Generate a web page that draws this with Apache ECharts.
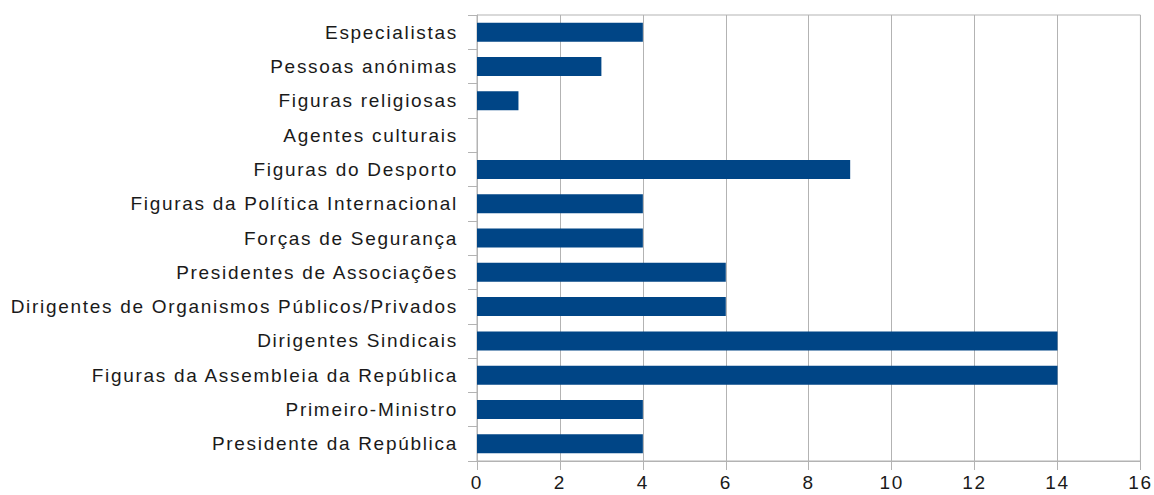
<!DOCTYPE html>
<html>
<head>
<meta charset="utf-8">
<script src="https://cdn.jsdelivr.net/npm/echarts@6/dist/echarts.min.js"></script>
<style>
html,body{margin:0;padding:0;background:#fff;}
#chart{width:1154px;height:495px;}
#chart text{letter-spacing:1.7px;}
</style>
</head>
<body>
<div id="chart"></div>
<script>
// bottom to top
const categories = [
  "Presidente da República",
  "Primeiro-Ministro",
  "Figuras da Assembleia da República",
  "Dirigentes Sindicais",
  "Dirigentes de Organismos Públicos/Privados",
  "Presidentes de Associações",
  "Forças de Segurança",
  "Figuras da Política Internacional",
  "Figuras do Desporto",
  "Agentes culturais",
  "Figuras religiosas",
  "Pessoas anónimas",
  "Especialistas"
];
const values = [4, 4, 14, 14, 6, 6, 4, 4, 9, 0, 1, 3, 4];
const xTicks = [0, 2, 4, 6, 8, 10, 12, 14, 16];

const chart = echarts.init(document.getElementById('chart'), null, {renderer: 'svg'});
const gridColor = '#b3b3b3';
chart.setOption({
  animation: false,
  backgroundColor: '#ffffff',
  grid: {left: 477, right: 11, top: 15, bottom: 34, show: true, borderColor: gridColor, borderWidth: 1, containLabel: false},
  xAxis: {
    type: 'value',
    min: xTicks[0],
    max: xTicks[xTicks.length - 1],
    interval: 2,
    axisLine: {show: true, lineStyle: {color: gridColor}},
    axisTick: {show: true, length: 9, lineStyle: {color: gridColor}},
    splitLine: {show: true, lineStyle: {color: gridColor, width: 1}},
    axisLabel: {color: '#1a1a1a', fontFamily: 'Liberation Sans', fontSize: 19, margin: 12}
  },
  yAxis: {
    type: 'category',
    data: categories,
    axisLine: {show: true, lineStyle: {color: gridColor}},
    axisTick: {show: true, length: 9, alignWithLabel: false, lineStyle: {color: gridColor}},
    splitLine: {show: false},
    axisLabel: {color: '#1a1a1a', fontFamily: 'Liberation Sans', fontSize: 19, margin: 19}
  },
  series: [{
    type: 'bar',
    data: values,
    barWidth: 19,
    itemStyle: {color: '#004586'}
  }]
});
</script>
</body>
</html>
